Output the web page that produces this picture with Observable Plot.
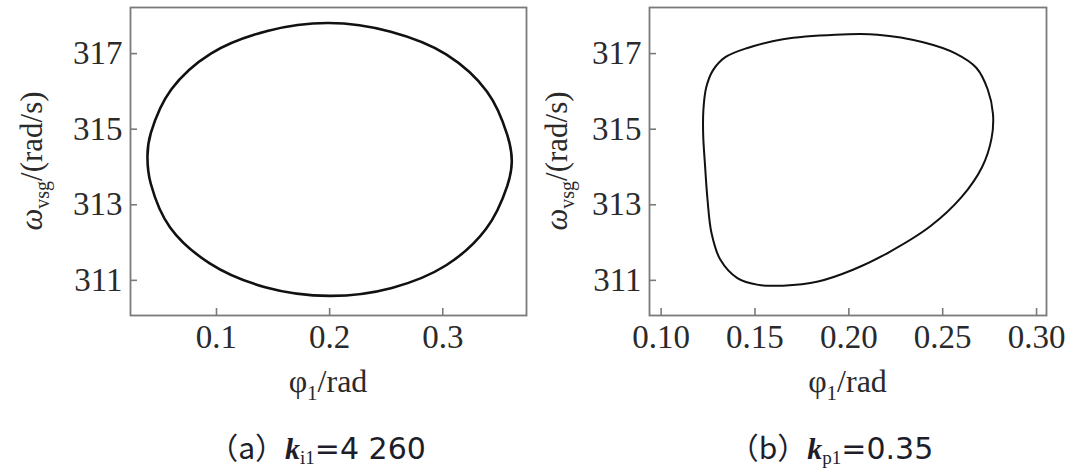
<!DOCTYPE html>
<html><head><meta charset="utf-8">
<script src="https://cdn.jsdelivr.net/npm/d3@7"></script>
<script src="https://cdn.jsdelivr.net/npm/@observablehq/plot@0.6"></script>
<style>
body{margin:0;background:#fff;}
#wrap{display:flex;width:1085px;height:475px;overflow:hidden;}
</style></head><body><div id="wrap"></div>
<script>
// Panel (a): k_i1 = 4 260 — limit cycle phi_1 vs omega_vsg
const phiA   = [0.199,0.145,0.095,0.060,0.042,0.039,0.042,0.059,0.094,0.143,0.200,0.255,0.303,0.338,0.357,0.361,0.357,0.339,0.303,0.254];
const omegaA = [317.81,317.60,317.00,316.05,314.90,314.30,313.55,312.40,311.45,310.82,310.59,310.80,311.40,312.35,313.50,314.15,314.85,316.00,316.98,317.58];
// Panel (b): k_p1 = 0.35
const phiB   = [0.1225,0.1240,0.1275,0.1340,0.1460,0.1649,0.1929,0.2153,0.2396,0.2570,0.2680,0.2740,0.2768,0.2760,0.2710,0.2600,0.2434,0.2209,0.2022,0.1836,0.1649,0.1518,0.1406,0.1315,0.1268,0.1247,0.1234,0.1224];
const omegaB = [315.50,316.10,316.55,316.90,317.15,317.38,317.50,317.50,317.30,317.00,316.62,316.05,315.40,314.75,314.00,313.20,312.43,311.73,311.28,310.97,310.86,310.88,311.06,311.55,312.26,313.14,314.03,314.85];

const yTicks  = [311, 313, 315, 317];
const xTicksA = [0.1, 0.2, 0.3];
const xTicksB = [0.10, 0.15, 0.20, 0.25, 0.30];
const yDomain  = [310.07, 318.22];
const xDomainA = [0.024, 0.374];
const xDomainB = [0.0938, 0.3053];

const captionA = {letter: "a", sub: "i1", value: "=4 260"};
const captionB = {letter: "b", sub: "p1", value: "=0.35"};

const FRAME = "#7a7a7a";
const TEXT = "#2a2a2a";

function panel(o) {
  const data = o.phi.map((x, i) => ({x, y: o.omega[i]}));
  const svg = Plot.plot({
    width: o.width, height: 475,
    marginLeft: o.ml, marginRight: o.mr, marginTop: 7, marginBottom: 160,
    style: {fontFamily: '"Liberation Serif", serif', fontSize: "33px", color: TEXT, background: "#fff", overflow: "visible"},
    x: {domain: o.xDomain},
    y: {domain: yDomain},
    marks: [
      Plot.axisX(o.xTicks, {tickSize: 0, tickPadding: 9, tickFormat: o.fmt, label: null}),
      Plot.axisX(o.xTicks, {tickSize: 7, dy: -7, tickFormat: () => "", label: null, stroke: FRAME, strokeWidth: 1.6}),
      Plot.axisY(yTicks, {tickSize: 0, tickPadding: 8, tickFormat: d3.format("d"), label: null}),
      Plot.axisY(yTicks, {tickSize: 7, dx: 7, tickFormat: () => "", label: null, stroke: FRAME, strokeWidth: 1.6}),
      Plot.line(data, {x: "x", y: "y", curve: "catmull-rom-closed", stroke: "#111", strokeWidth: o.sw}),
      Plot.frame({stroke: FRAME, strokeWidth: 1.8})
    ]
  });
  const s = d3.select(svg);
  const fl = o.ml, fr = o.width - o.mr;
  const cx = (fl + fr) / 2;
  // x-axis label
  const xl = s.append("text").attr("x", cx).attr("y", 392).attr("text-anchor", "middle")
    .attr("font-size", 32).attr("fill", TEXT).attr("font-family", '"Liberation Serif", serif');
  xl.append("tspan").text("φ");
  xl.append("tspan").attr("font-size", 21).attr("dy", 8).text("1");
  xl.append("tspan").attr("dy", -8).text("/rad");
  // y-axis label
  const yl = s.append("text").attr("transform", `translate(${fl - o.yOff},161) rotate(-90)`)
    .attr("text-anchor", "middle").attr("font-size", 31).attr("fill", TEXT).attr("font-family", '"Liberation Serif", serif');
  yl.append("tspan").attr("font-style", "italic").text("ω");
  yl.append("tspan").attr("font-size", 20).attr("dy", 7).text("vsg");
  yl.append("tspan").attr("dy", -7).text("/(rad/s)");
  // caption
  const c = o.caption;
  const cap = s.append("text").attr("x", o.capX).attr("y", 459).attr("text-anchor", "middle")
    .attr("font-size", 30).attr("fill", "#1e1e2a");
  cap.append("tspan").attr("font-family", '"Noto Sans CJK SC"').text("（" + c.letter + "）");
  cap.append("tspan").attr("font-family", '"Liberation Serif", serif').attr("font-style", "italic").attr("font-weight", "bold").text("k");
  cap.append("tspan").attr("font-family", '"Liberation Serif", serif').attr("font-size", 19).attr("dy", 5).text(c.sub);
  cap.append("tspan").attr("font-family", '"DejaVu Sans", sans-serif').attr("dy", -5).text(c.value);
  return svg;
}

const wrap = document.getElementById("wrap");
wrap.append(panel({width: 540, ml: 130, mr: 14, xDomain: xDomainA, xTicks: xTicksA, fmt: d3.format(".1f"),
  phi: phiA, omega: omegaA, yOff: 88, capX: 317, sw: 2.6, caption: captionA}));
wrap.append(panel({width: 545, ml: 109, mr: 39, xDomain: xDomainB, xTicks: xTicksB, fmt: d3.format(".2f"),
  phi: phiB, omega: omegaB, yOff: 82, capX: 291, sw: 2.0, caption: captionB}));
</script></body></html>
